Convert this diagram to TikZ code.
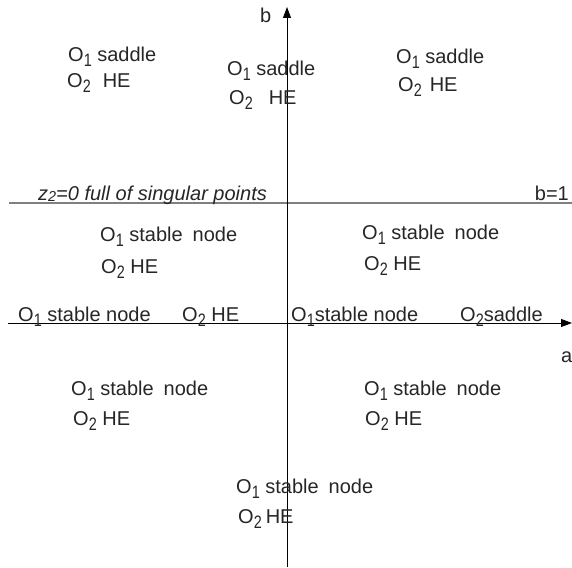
\documentclass[tikz,border=0pt]{standalone}
\usepackage{fontspec}
\setmainfont{Liberation Sans}
\usetikzlibrary{arrows.meta}
\newcommand{\lowidx}[1]{\raisebox{-5pt}{\scalebox{0.72}[0.9]{#1}}}
\tikzset{lbl/.style={anchor=base west, inner sep=0pt, text=black!85,
font=\fontsize{20}{22}\selectfont},
axis/.style={line width=0.8pt, black, -{Triangle[length=11pt,width=8pt]}},
level/.style={gray, line width=1.2pt}}

\begin{document}
\begin{tikzpicture}[x=1pt,y=-1pt]
  \useasboundingbox (0,0) rectangle (572,567);
  % axes and the line b=1
  \coordinate (bbot) at (287,567);
  \coordinate (btop) at (287,7);
  \coordinate (aleft) at (8,323);
  \coordinate (aright) at (572,323);
  \coordinate (lvlleft) at (9,203);
  \coordinate (lvlright) at (572,203);
  \draw [level] (lvlleft) -- (lvlright);
  \draw [axis] (bbot) -- (btop);
  \draw [axis] (aleft) -- (aright);
  \node (blab) [lbl] at (260,23) {b};
  \node (alab) [lbl] at (561,362) {a};
  % region b>1
  \node (tl1) [lbl] at (68,62) {O\lowidx{1} saddle};
  \node (tl2) [lbl] at (67,88) {O\lowidx{2}\hspace{0.6em}HE};
  \node (tm1) [lbl] at (227,76) {O\lowidx{1} saddle};
  \node (tm2) [lbl] at (229,105) {O\lowidx{2}\hspace{0.8em}HE};
  \node (tr1) [lbl] at (396,64) {O\lowidx{1} saddle};
  \node (tr2) [lbl] at (398,92) {O\lowidx{2}\hspace{0.4em}HE};
  \node (sing) [lbl, font=\fontsize{20}{22}\selectfont\itshape] at (38,200)
    {z\raisebox{-1pt}{\scalebox{0.72}{2}}=0 full of singular points};
  \node (bone) [lbl, anchor=base east] at (569,200) {b=1};
  % region 0<b<1
  \node (ml1) [lbl] at (100,241) {O\lowidx{1} stable\hspace{0.5em}node};
  \node (ml2) [lbl] at (101,273) {O\lowidx{2} HE};
  \node (mr1) [lbl] at (362,239) {O\lowidx{1} stable\hspace{0.5em}node};
  \node (mr2) [lbl] at (364,270) {O\lowidx{2} HE};
  % on the axis b=0
  \node (al1) [lbl] at (18,321) {O\lowidx{1} stable node};
  \node (al2) [lbl] at (182,321) {O\lowidx{2} HE};
  \node (ar1) [lbl] at (291,321) {O\lowidx{1}stable node};
  \node (ar2) [lbl] at (460,321) {O\lowidx{2}saddle};
  % region b<0
  \node (bl1) [lbl] at (71,395) {O\lowidx{1} stable\hspace{0.5em}node};
  \node (bl2) [lbl] at (73,425) {O\lowidx{2} HE};
  \node (br1) [lbl] at (364,395) {O\lowidx{1} stable\hspace{0.5em}node};
  \node (br2) [lbl] at (365,425) {O\lowidx{2} HE};
  \node (bb1) [lbl] at (236,493) {O\lowidx{1} stable\hspace{0.5em}node};
  \node (bb2) [lbl] at (238,523) {O\lowidx{2}\hspace{0.2em}HE};
\end{tikzpicture}
\end{document}
